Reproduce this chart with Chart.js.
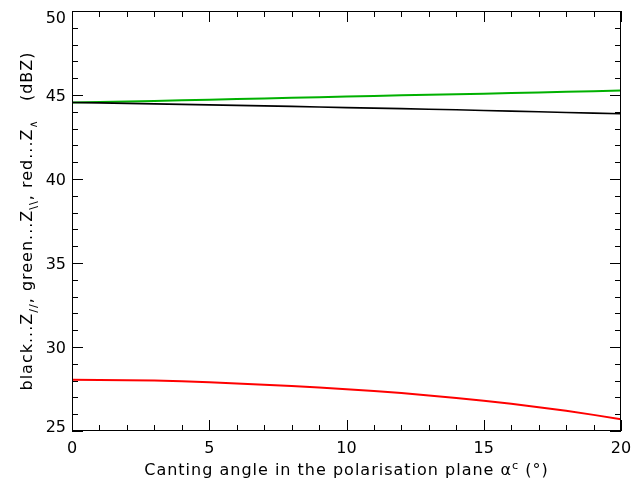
<!DOCTYPE html>
<html>
<head>
<meta charset="utf-8">
<script src="https://cdn.jsdelivr.net/npm/chart.js@4.4.1/dist/chart.umd.min.js"></script>
<style>
  html, body { margin: 0; padding: 0; background: #fff; }
  #box { width: 643px; height: 483px; }
</style>
</head>
<body>
<div id="box"><canvas id="grafico"></canvas></div>
<script>
// canting angle (deg)
const angulos = [0, 1, 2, 3, 4, 5, 6, 7, 8, 9, 10, 11, 12, 13, 14, 15, 16, 17, 18, 19, 20];
// black ... Z//
const zParalelo = [44.55, 44.53, 44.50, 44.47, 44.44, 44.41, 44.38, 44.35, 44.32, 44.29, 44.25,
                   44.22, 44.19, 44.15, 44.12, 44.08, 44.04, 44.00, 43.96, 43.92, 43.88];
// green ... Z\\
const zCruzado = [44.55, 44.58, 44.62, 44.65, 44.69, 44.72, 44.76, 44.79, 44.83, 44.86, 44.91,
                  44.94, 44.98, 45.01, 45.05, 45.08, 45.12, 45.15, 45.19, 45.22, 45.27];
// red ... Z∧
const zLambda = [28.05, 28.04, 28.02, 28.00, 27.96, 27.90, 27.83, 27.76, 27.68, 27.59, 27.49,
                 27.38, 27.26, 27.12, 26.97, 26.80, 26.62, 26.42, 26.20, 25.96, 25.70];

const xTicks = [0, 5, 10, 15, 20];
const yTicks = [25, 30, 35, 40, 45, 50];

const fonte = '"DejaVu Sans", Verdana, sans-serif';

// draws text pieces with sub/superscripts, centred on x=0, along current baseline
function textoRico(ctx, partes, tam, espaco) {
    ctx.letterSpacing = espaco + 'px';
    let largura = 0;
    partes.forEach(p => {
        ctx.font = (p.s ? tam * 0.7 : tam) + 'px ' + fonte;
        largura += ctx.measureText(p.t).width;
    });
    let x = -largura / 2;
    partes.forEach(p => {
        const t = p.s ? tam * 0.7 : tam;
        ctx.font = t + 'px ' + fonte;
        const dy = p.s === 'sub' ? tam * 0.3 : (p.s === 'sup' ? -tam * 0.4 : 0);
        ctx.fillText(p.t, x, dy);
        x += ctx.measureText(p.t).width;
    });
    ctx.letterSpacing = '0px';
}

const eixosIDL = {
    id: 'eixosIDL',
    afterDraw(chart) {
        const ctx = chart.ctx;
        const a = chart.chartArea;
        const sx = chart.scales.x;
        const sy = chart.scales.y;
        ctx.save();
        ctx.strokeStyle = '#000';
        ctx.lineWidth = 1;
        ctx.strokeRect(a.left + 0.5, a.top + 0.5, a.right - a.left - 1, a.bottom - a.top - 1);
        ctx.beginPath();
        for (let v = 0; v <= 20; v++) {
            const px = Math.round(sx.getPixelForValue(v)) + 0.5;
            const len = v % 5 === 0 ? 11 : 6;
            ctx.moveTo(px, a.bottom); ctx.lineTo(px, a.bottom - len);
            ctx.moveTo(px, a.top); ctx.lineTo(px, a.top + len);
        }
        for (let v = 25; v <= 50; v++) {
            const py = Math.round(sy.getPixelForValue(v)) + 0.5;
            const len = v % 5 === 0 ? 11 : 6;
            ctx.moveTo(a.left, py); ctx.lineTo(a.left + len, py);
            ctx.moveTo(a.right, py); ctx.lineTo(a.right - len, py);
        }
        ctx.stroke();

        ctx.fillStyle = '#000';
        ctx.textBaseline = 'alphabetic';
        // y tick labels, kept inside the axis height like IDL does
        ctx.textAlign = 'right';
        ctx.font = '16px ' + fonte;
        yTicks.forEach(v => {
            const py = sy.getPixelForValue(v);
            const base = Math.min(Math.max(py + 6, a.top + 11.5), a.bottom + 1);
            ctx.fillText(String(v), a.left - 6, base);
        });

        ctx.textAlign = 'left';
        // x title
        ctx.save();
        ctx.translate((a.left + a.right) / 2, 475);
        textoRico(ctx, [
            { t: 'Canting angle in the polarisation plane α' },
            { t: 'c', s: 'sup' },
            { t: ' (°)' }
        ], 16, 1.0);
        ctx.restore();
        // y title
        ctx.save();
        ctx.translate(32, (a.top + a.bottom) / 2);
        ctx.rotate(-Math.PI / 2);
        textoRico(ctx, [
            { t: 'black...Z' }, { t: '//', s: 'sub' },
            { t: ', green...Z' }, { t: '\\\\', s: 'sub' },
            { t: ', red...Z' }, { t: '∧', s: 'sub' },
            { t: '   (dBZ)' }
        ], 16, 1.0);
        ctx.restore();
        ctx.restore();
    }
};

function main() {
    const ctx = document.getElementById('grafico').getContext('2d');
    const serie = (ys) => angulos.map((x, i) => ({ x: x, y: ys[i] }));

    new Chart(ctx, {
        type: 'line',
        data: {
            datasets: [
                { label: 'Z//', data: serie(zParalelo), borderColor: '#000000', borderWidth: 1.6,
                  pointRadius: 0, tension: 0, fill: false },
                { label: 'Z\\\\', data: serie(zCruzado), borderColor: '#00b000', borderWidth: 2,
                  pointRadius: 0, tension: 0, fill: false },
                { label: 'Z∧', data: serie(zLambda), borderColor: '#ff0000', borderWidth: 2,
                  pointRadius: 0, tension: 0, fill: false }
            ]
        },
        options: {
            animation: false,
            responsive: true,
            maintainAspectRatio: false,
            layout: { padding: { top: 11, right: 22, left: 0, bottom: 0 } },
            plugins: { legend: { display: false }, tooltip: { enabled: false } },
            scales: {
                x: {
                    type: 'linear',
                    min: 0,
                    max: 20,
                    afterBuildTicks: (s) => { s.ticks = xTicks.map(v => ({ value: v })); },
                    afterFit: (s) => { s.height = 52; s.paddingLeft = 0; s.paddingRight = 0; },
                    ticks: { color: '#000', padding: 8, maxRotation: 0,
                             font: { family: fonte, size: 16 } },
                    grid: { display: false, drawTicks: false },
                    border: { display: false }
                },
                y: {
                    min: 25,
                    max: 50,
                    afterBuildTicks: (s) => { s.ticks = yTicks.map(v => ({ value: v })); },
                    afterFit: (s) => { s.width = 72; s.paddingTop = 0; s.paddingBottom = 0; },
                    ticks: { display: false },
                    grid: { display: false, drawTicks: false },
                    border: { display: false }
                }
            }
        },
        plugins: [eixosIDL]
    });
}

window.addEventListener('DOMContentLoaded', main);
</script>
</body>
</html>
